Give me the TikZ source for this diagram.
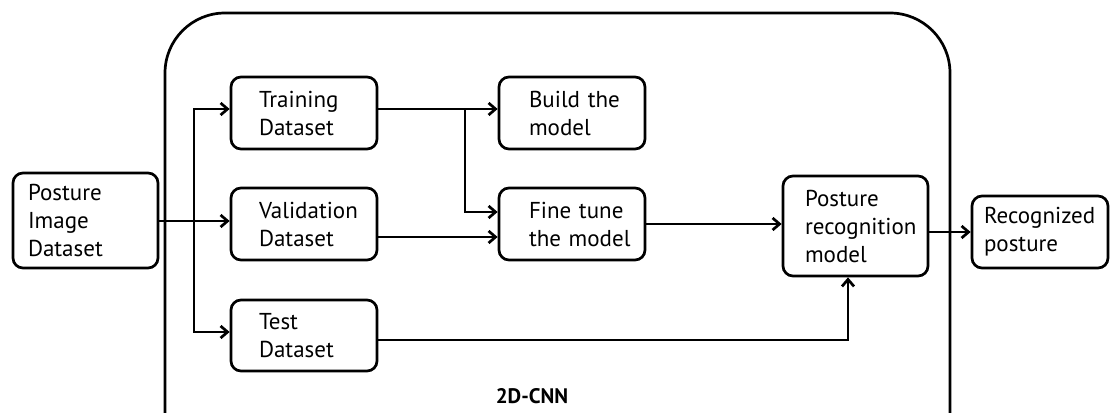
\documentclass[tikz,border=0pt]{standalone}
\usepackage{fontspec}
\setmainfont{PT Sans}
\usetikzlibrary{arrows.meta,positioning}
\definecolor{ink}{HTML}{000000}

\begin{document}
\begin{tikzpicture}[x=1pt,y=-1pt,
  blk/.style={draw=ink,line width=2.7pt,rounded corners=10pt,align=left,inner ysep=0pt,font=\fontsize{23}{28}\selectfont},
  flow/.style={draw=ink,line width=2.7pt,-{Straight Barb[length=7pt,width=12pt,line width=2.7pt]}}]
\useasboundingbox (0,0) rectangle (1110,412);
\draw[ink,line width=2.7pt,rounded corners=60pt] (165,460) -- (165,13) -- (950,13) -- (950,460);
\node[font=\bfseries\fontsize{21}{24}\selectfont] (cnn) at (532,396) {2D-CNN};
\node[blk,minimum height=95pt,text width=115pt,inner xsep=15pt] (img) at (85.5,220.5) {Posture\\Image\\Dataset};
\node[blk,minimum height=72pt,text width=90pt,inner xsep=28pt] (train) at (304,113) {Training\\Dataset};
\node[blk,minimum height=72pt,text width=90pt,inner xsep=28pt] (val) at (304,224) {Validation\\Dataset};
\node[blk,minimum height=71pt,text width=90pt,inner xsep=28pt] (test) at (304,335.5) {Test\\Dataset};
\node[blk,minimum height=72pt,text width=86pt,inner xsep=30pt] (build) at (572,113) {Build~the\\model};
\node[blk,minimum height=72pt,text width=86pt,inner xsep=30pt] (fine) at (572,224) {Fine~tune\\the~model};
\node[blk,minimum height=100pt,text width=101pt,inner xsep=22pt] (prm) at (855.5,226) {Posture\\recognition\\model};
\node[blk,minimum height=72pt,text width=112pt,inner xsep=12pt] (rec) at (1040,232) {Recognized\\posture};
\coordinate (split) at (194,221);
\coordinate (tsplit) at (465,109);
\draw[flow] (img.east |- split) -- (val.west |- split);
\draw[flow] (split) |- ([yshift=4pt]train.west);
\draw[flow] (split) |- ([yshift=3.5pt]test.west);
\draw[flow] ([yshift=4pt]train.east) -- ([yshift=4pt]build.west);
\draw[flow] (tsplit) |- ([yshift=12pt]fine.west);
\draw[flow] ([yshift=-13pt]val.east) -- ([yshift=-13pt]fine.west);
\draw[flow] (fine.east) -- (prm.west |- fine.east);
\draw[flow] ([yshift=-4.5pt]test.east) -| ([xshift=-7.5pt]prm.south);
\draw[flow] (prm.east |- rec.west) -- (rec.west);
\end{tikzpicture}
\end{document}
